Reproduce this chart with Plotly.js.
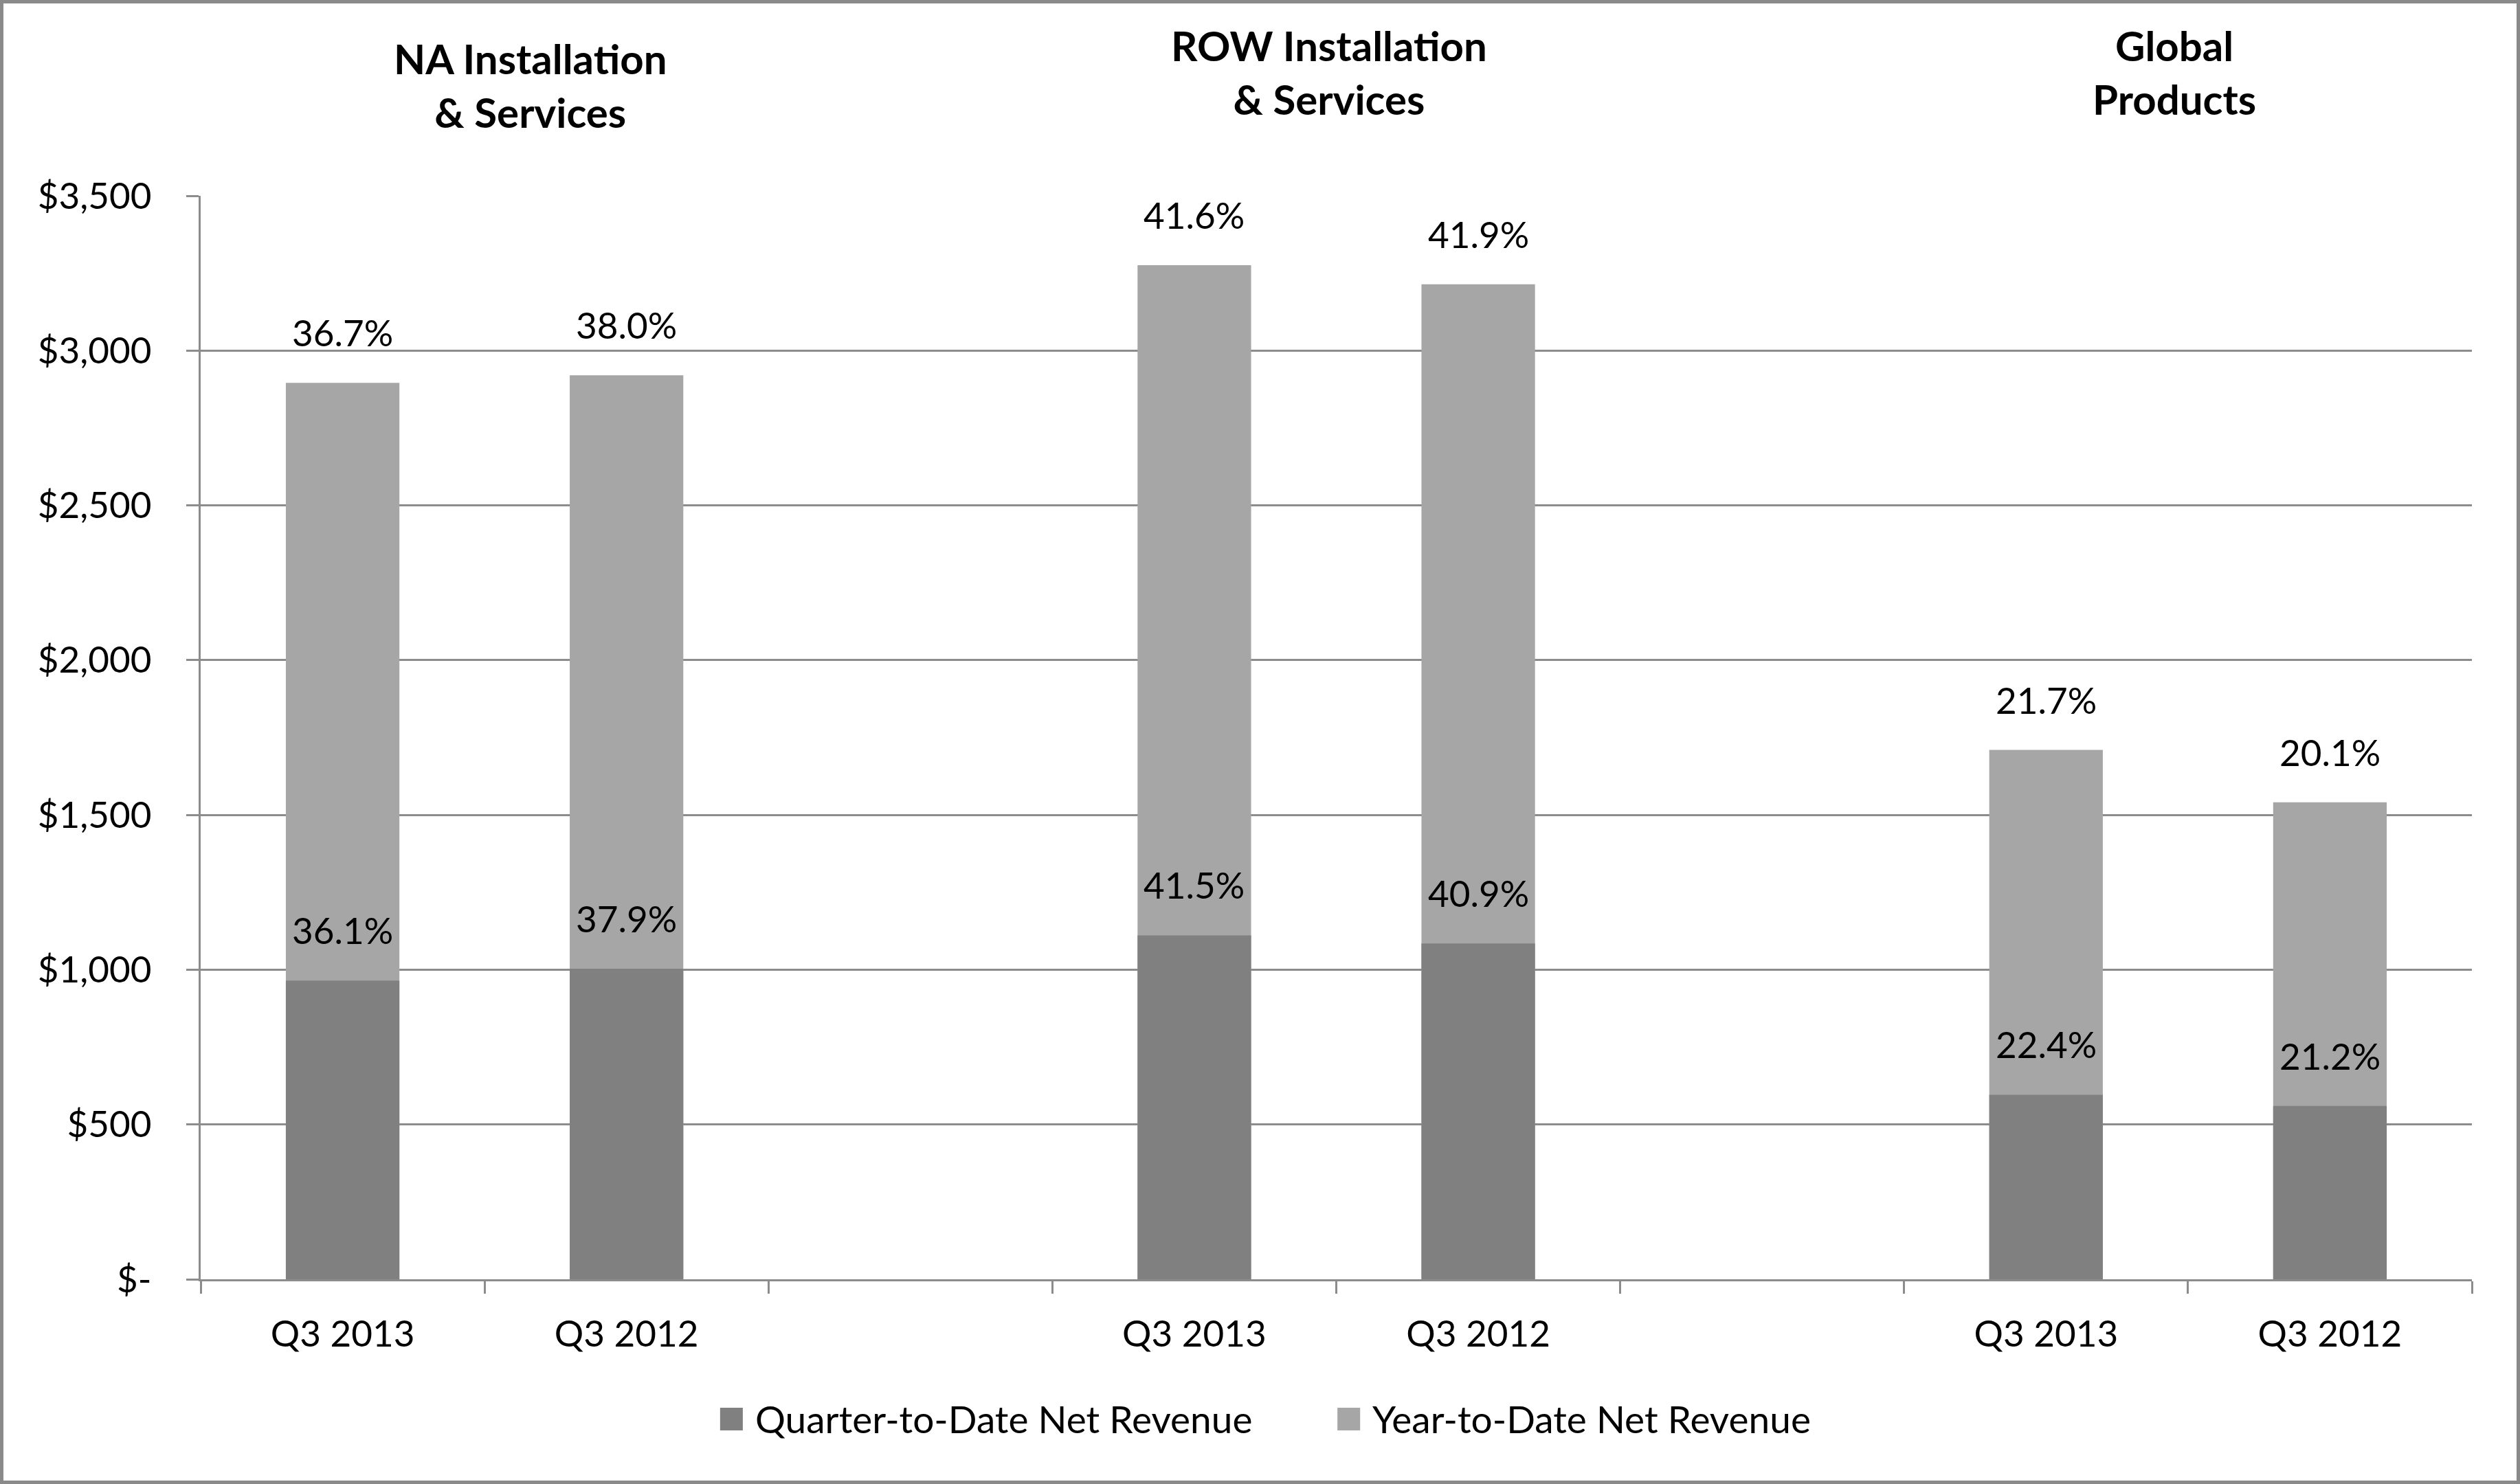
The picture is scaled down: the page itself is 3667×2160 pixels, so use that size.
<!DOCTYPE html>
<html>
<head>
<meta charset="utf-8">
<script src="https://cdn.plot.ly/plotly-3.0.1.min.js"></script>
<style>
  html, body { margin: 0; padding: 0; background: #ffffff; }
  #chart { width: 3667px; height: 2160px; box-sizing: border-box; border: 5px solid #8a8a8a; }
</style>
</head>
<body>
<div id="chart"></div>
<script>
// ---- data ----
const categories = ["NA Q3 2013", "NA Q3 2012", "gap 1", "ROW Q3 2013", "ROW Q3 2012", "gap 2", "GP Q3 2013", "GP Q3 2012"];
const tickLabels = ["Q3 2013", "Q3 2012", "", "Q3 2013", "Q3 2012", "", "Q3 2013", "Q3 2012"];
const qtdRevenue = [965, 1003, null, 1111, 1085, null, 596, 560];
const ytdRevenue = [2896, 2920, null, 3276, 3214, null, 1710, 1541];
const qtdMargin = ["36.1%", "37.9%", "", "41.5%", "40.9%", "", "22.4%", "21.2%"];
const ytdMargin = ["36.7%", "38.0%", "", "41.6%", "41.9%", "", "21.7%", "20.1%"];
const groupTitles = ["<b>NA Installation</b><br><b>& Services</b>", "<b>ROW Installation</b><br><b>& Services</b>", "<b>Global</b><br><b>Products</b>"];
const yTickVals = [0, 500, 1000, 1500, 2000, 2500, 3000, 3500];
const yTickText = ["$-", "$500", "$1,000", "$1,500", "$2,000", "$2,500", "$3,000", "$3,500"];
const seriesNames = ["Quarter-to-Date Net Revenue", "Year-to-Date Net Revenue"];
const seriesColors = ["#808080", "#a6a6a6"];

// ---- styling ----
const FONT = "Lato, 'Open Sans', sans-serif";
const GRID = "#8c8c8c";
const titleX = [0.1452, 0.4969, 0.869];
const titleY = [1.102, 1.114, 1.114];
// legend layout (paper coords)
const legSwatchX = [0.2287, 0.5005];
const legSwatchW = 0.0100;
const legTextX = [0.2436, 0.5153];
const legY0 = -0.1395, legY1 = -0.1186, legTextY = -0.1287;

const traces = [
  {
    type: "bar", name: seriesNames[1], x: categories, y: ytdRevenue,
    marker: { color: seriesColors[1], line: { width: 0 } }, width: 0.4,
    hoverinfo: "skip", showlegend: false
  },
  {
    type: "bar", name: seriesNames[0], x: categories, y: qtdRevenue,
    marker: { color: seriesColors[0], line: { width: 0 } }, width: 0.4,
    hoverinfo: "skip", showlegend: false
  }
];

const annotations = [];
categories.forEach((c, i) => {
  if (ytdRevenue[i] != null) {
    annotations.push({ x: i, y: ytdRevenue[i], xref: "x", yref: "y", text: ytdMargin[i],
      showarrow: false, yanchor: "bottom", yshift: 40, font: { family: FONT, size: 53, color: "#000" } });
  }
  if (qtdRevenue[i] != null) {
    annotations.push({ x: i, y: qtdRevenue[i], xref: "x", yref: "y", text: qtdMargin[i],
      showarrow: false, yanchor: "bottom", yshift: 40, font: { family: FONT, size: 53, color: "#000" } });
  }
});
groupTitles.forEach((t, k) => {
  annotations.push({ x: titleX[k], y: titleY[k], xref: "paper", yref: "paper", text: t,
    showarrow: false, xanchor: "center", yanchor: "middle", align: "center",
    font: { family: FONT, size: 60, color: "#000" } });
});

// legend built from series names/colours
const shapes = [];
seriesNames.forEach((n, k) => {
  shapes.push({ type: "rect", xref: "paper", yref: "paper",
    x0: legSwatchX[k], x1: legSwatchX[k] + legSwatchW, y0: legY0, y1: legY1,
    fillcolor: seriesColors[k], line: { width: 0 } });
  annotations.push({ x: legTextX[k], y: legTextY, xref: "paper", yref: "paper", text: n,
    showarrow: false, xanchor: "left", yanchor: "middle",
    font: { family: FONT, size: 55, color: "#000" } });
});

const layout = {
  width: 3657, height: 2150,
  margin: { l: 287, r: 65, t: 280, b: 293, pad: 0 },
  paper_bgcolor: "#ffffff", plot_bgcolor: "#ffffff",
  font: { family: FONT, size: 53, color: "#000" },
  barmode: "overlay",
  showlegend: false,
  xaxis: {
    type: "category", categoryorder: "array", categoryarray: categories,
    tickmode: "array", tickvals: categories, ticktext: tickLabels,
    tickson: "boundaries", ticks: "outside", ticklen: 18, tickwidth: 3, tickcolor: GRID,
    showline: true, linecolor: GRID, linewidth: 3, showgrid: false, zeroline: false,
    range: [-0.5, 7.5], ticklabelstandoff: 31,
    tickfont: { family: FONT, size: 53, color: "#000" }
  },
  yaxis: {
    range: [0, 3500], tickmode: "array", tickvals: yTickVals, ticktext: yTickText,
    ticks: "outside", ticklen: 18, tickwidth: 3, tickcolor: GRID,
    showline: true, linecolor: GRID, linewidth: 3,
    showgrid: true, gridcolor: GRID, gridwidth: 3, zeroline: false,
    ticklabelstandoff: 40,
    tickfont: { family: FONT, size: 53, color: "#000" }
  },
  shapes: shapes,
  annotations: annotations
};

Plotly.newPlot("chart", traces, layout, { staticPlot: true, displayModeBar: false });
</script>
</body>
</html>
